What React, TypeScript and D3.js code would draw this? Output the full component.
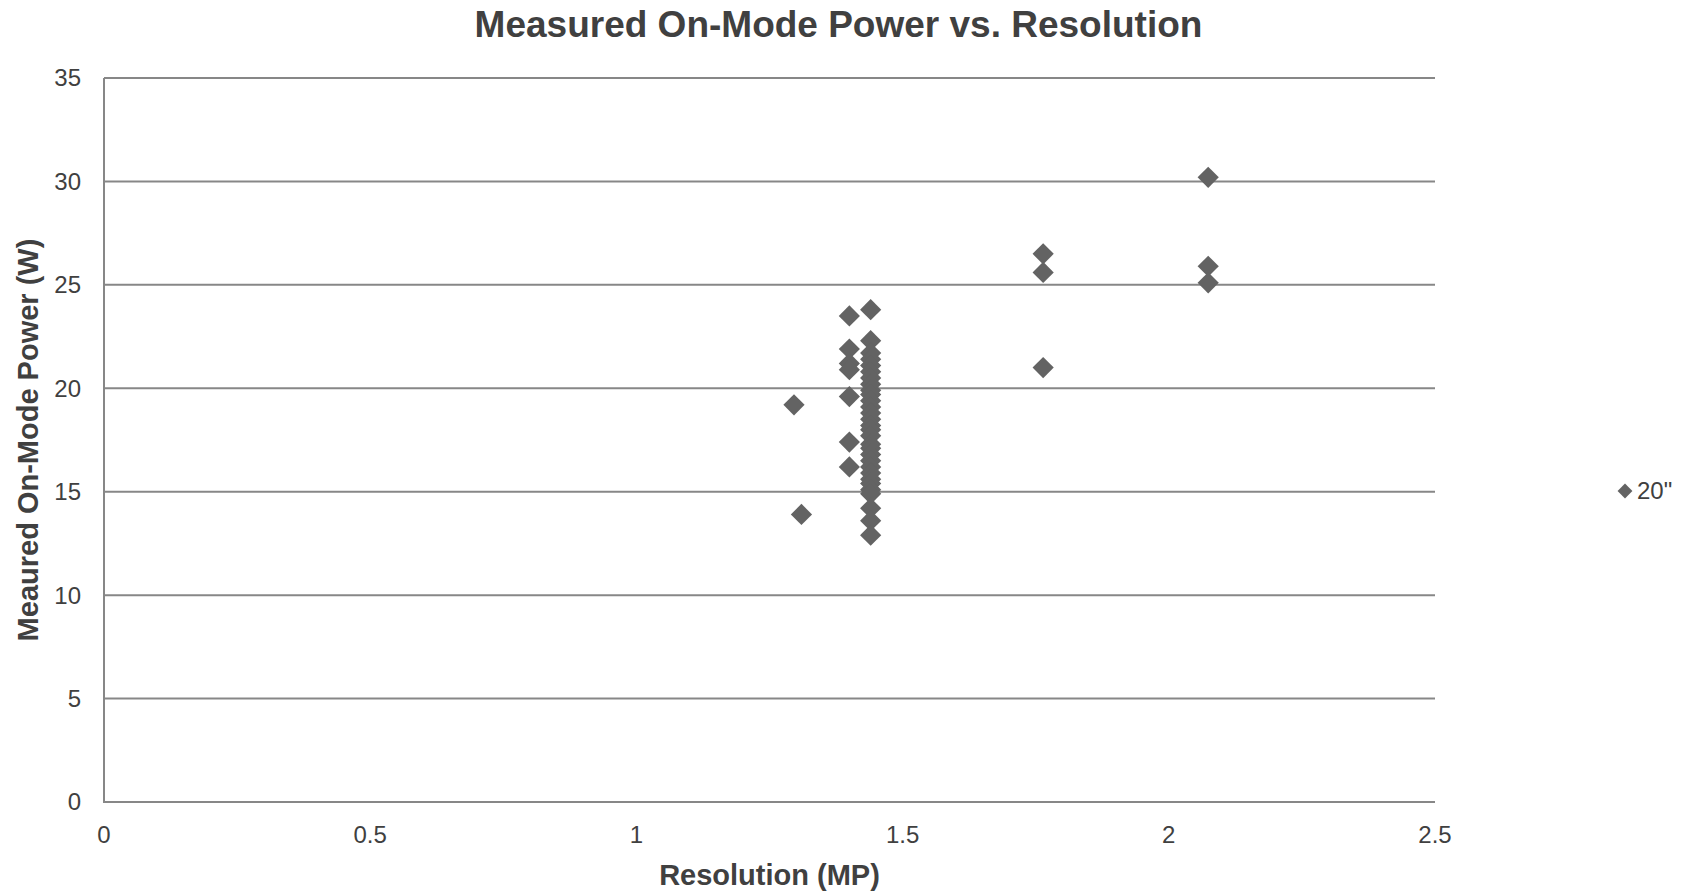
import React from "react";
import * as d3 from "d3";

// ---- data ----
const seriesName = '20"';
const resolutionMP: number[] = [
  1.296, 1.31,
  1.4, 1.4, 1.4, 1.4, 1.4, 1.4, 1.4,
  1.44, 1.44, 1.44, 1.44, 1.44, 1.44, 1.44, 1.44, 1.44, 1.44, 1.44, 1.44, 1.44, 1.44, 1.44,
  1.44, 1.44, 1.44, 1.44, 1.44, 1.44, 1.44, 1.44, 1.44, 1.44, 1.44, 1.44, 1.44, 1.44, 1.44,
  1.764, 1.764, 1.764,
  2.074, 2.074, 2.074,
];
const powerW: number[] = [
  19.2, 13.9,
  23.5, 21.9, 21.2, 20.9, 19.6, 17.4, 16.2,
  23.8, 22.3, 21.7, 21.4, 21.1, 20.8, 20.5, 20.2, 19.9, 19.7, 19.4, 19.1, 18.8, 18.5, 18.2,
  18.0, 17.7, 17.3, 17.1, 16.8, 16.5, 16.2, 15.9, 15.6, 15.4, 15.1, 14.9, 14.2, 13.6, 12.9,
  26.5, 25.6, 21.0,
  30.2, 25.9, 25.1,
];
const xTicks: number[] = [0, 0.5, 1, 1.5, 2, 2.5];
const yTicks: number[] = [0, 5, 10, 15, 20, 25, 30, 35];

const W = 1681;
const H = 891;
const plot = { left: 104, right: 1435, top: 78, bottom: 802 };
const textColor = "#404040";
const gridColor = "#878787";
const markColor = "#636363";
const font = "'Liberation Sans', Arial, sans-serif";

export default function App() {
  const x = d3.scaleLinear().domain([0, 2.5]).range([plot.left, plot.right]);
  const y = d3.scaleLinear().domain([0, 35]).range([plot.bottom, plot.top]);
  const diamond = d3.symbol(d3.symbolSquare, 225)() as string;
  const points = resolutionMP.map((r, i) => ({ r, p: powerW[i] }));

  return (
    <svg
      width={W}
      height={H}
      style={{ position: "absolute", left: 0, top: 0, display: "block", background: "#fff" }}
      fontFamily={font}
    >
      <rect x={0} y={0} width={W} height={H} fill="#fff" />
      {/* gridlines */}
      {yTicks.map((t) => (
        <line
          key={"g" + t}
          x1={plot.left}
          x2={plot.right}
          y1={y(t)}
          y2={y(t)}
          stroke={gridColor}
          strokeWidth={2}
        />
      ))}
      {/* left axis line */}
      <line x1={plot.left} x2={plot.left} y1={plot.top} y2={plot.bottom + 1} stroke={gridColor} strokeWidth={2} />
      {/* y tick labels */}
      {yTicks.map((t) => (
        <text
          key={"yl" + t}
          x={plot.left - 23}
          y={y(t)}
          dy="0.35em"
          textAnchor="end"
          fontSize={24}
          fill={textColor}
        >
          {t}
        </text>
      ))}
      {/* x tick labels */}
      {xTicks.map((t) => (
        <text key={"xl" + t} x={x(t)} y={843} textAnchor="middle" fontSize={24} fill={textColor}>
          {t}
        </text>
      ))}
      {/* points */}
      {points.map((d, i) => (
        <path
          key={"p" + i}
          d={diamond}
          transform={`translate(${x(d.r)},${y(d.p)}) rotate(45)`}
          fill={markColor}
        />
      ))}
      {/* title */}
      <text x={(plot.left + plot.right) / 2 + 69} y={37} textAnchor="middle" fontSize={37} fontWeight="bold" fill={textColor}>
        Measured On-Mode Power vs. Resolution
      </text>
      {/* axis titles */}
      <text x={(plot.left + plot.right) / 2} y={885} textAnchor="middle" fontSize={29} fontWeight="bold" fill={textColor}>
        Resolution (MP)
      </text>
      <text
        transform={`translate(38,${(plot.top + plot.bottom) / 2}) rotate(-90)`}
        textAnchor="middle"
        fontSize={29}
        fontWeight="bold"
        fill={textColor}
      >
        Meaured On-Mode Power (W)
      </text>
      {/* legend */}
      <path d={d3.symbol(d3.symbolSquare, 110)() as string} transform="translate(1625,491) rotate(45)" fill={markColor} />
      <text x={1637} y={491} dy="0.35em" fontSize={24} fill={textColor}>
        {seriesName}
      </text>
    </svg>
  );
}
